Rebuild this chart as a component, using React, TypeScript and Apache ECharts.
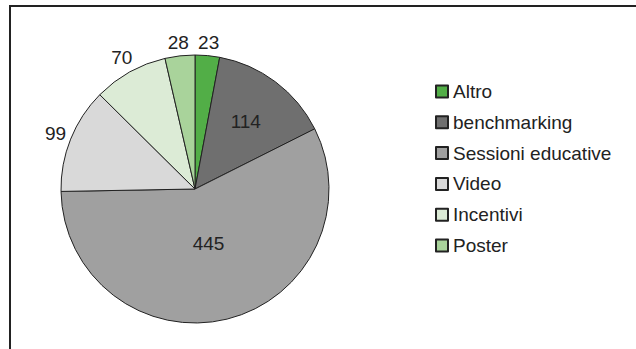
import React, { useEffect, useRef } from "react";
import * as echarts from "echarts";

const categories = ["Altro", "benchmarking", "Sessioni educative", "Video", "Incentivi", "Poster"];
const values = [23, 114, 445, 99, 70, 28];
const colors = ["#52ae47", "#6f6f6f", "#a0a0a0", "#d9d9d9", "#dcebd6", "#a9d39b"];
const insideLabels = ["benchmarking", "Sessioni educative"];

// layout constants (not data)
const CX = 195;
const CY = 189;
const R = 134;
const LABEL_GAP = 3;
const insideLabelRadius: Record<string, number> = { benchmarking: 0.63, "Sessioni educative": 0.42 };

export default function App() {
  const ref = useRef<HTMLDivElement>(null);
  useEffect(() => {
    const chart = echarts.init(ref.current!, undefined, { renderer: "svg" });
    const font = "Arial, 'Liberation Sans', sans-serif";
    const total = values.reduce((a, b) => a + b, 0);
    const midAngles: number[] = [];
    let cum = 0;
    values.forEach((v) => {
      midAngles.push(((cum + v / 2) / total) * Math.PI * 2);
      cum += v;
    });
    chart.setOption({
      animation: false,
      backgroundColor: "#ffffff",
      graphic: [
        { type: "line", shape: { x1: 9, y1: 6, x2: 636, y2: 6 }, style: { stroke: "#222", lineWidth: 2 } },
        { type: "line", shape: { x1: 10, y1: 5, x2: 10, y2: 349 }, style: { stroke: "#222", lineWidth: 2 } },
      ],
      legend: {
        orient: "vertical",
        left: 435,
        top: 82,
        padding: 0,
        icon: "rect",
        itemWidth: 12,
        itemHeight: 12,
        itemGap: 11.8,
        data: categories,
        textStyle: { fontFamily: font, fontSize: 19, color: "#222", lineHeight: 19 },
      },
      series: [
        {
          type: "pie",
          center: [CX, CY],
          radius: [0, R],
          startAngle: 90,
          clockwise: true,
          avoidLabelOverlap: false,
          itemStyle: { borderColor: "#222", borderWidth: 1 },
          label: {
            show: true,
            position: "outside",
            formatter: "{c}",
            fontFamily: font,
            fontSize: 19,
            color: "#222",
          },
          labelLine: { show: false, length: 4, length2: 0 },
          labelLayout: (params: any) => {
            const name = categories[params.dataIndex];
            const a = midAngles[params.dataIndex];
            const dx = Math.sin(a);
            const dy = -Math.cos(a);
            const rect = params.labelRect;
            let d: number;
            if (insideLabels.includes(name)) {
              d = R * insideLabelRadius[name];
            } else {
              d = R + LABEL_GAP + (Math.abs(dx) * rect.width) / 2 + (Math.abs(dy) * rect.height) / 2;
            }
            return { x: CX + dx * d, y: CY + dy * d, align: "center", verticalAlign: "middle" };
          },
          emphasis: { disabled: true },
          data: categories.map((name, i) => ({
            name,
            value: values[i],
            itemStyle: { color: colors[i] },
            label: insideLabels.includes(name) ? { position: "inside" } : undefined,
          })),
        },
      ],
    });
    return () => chart.dispose();
  }, []);
  return (
    <div
      ref={ref}
      style={{ position: "fixed", left: 0, top: 0, width: 636, height: 349 }}
    />
  );
}
